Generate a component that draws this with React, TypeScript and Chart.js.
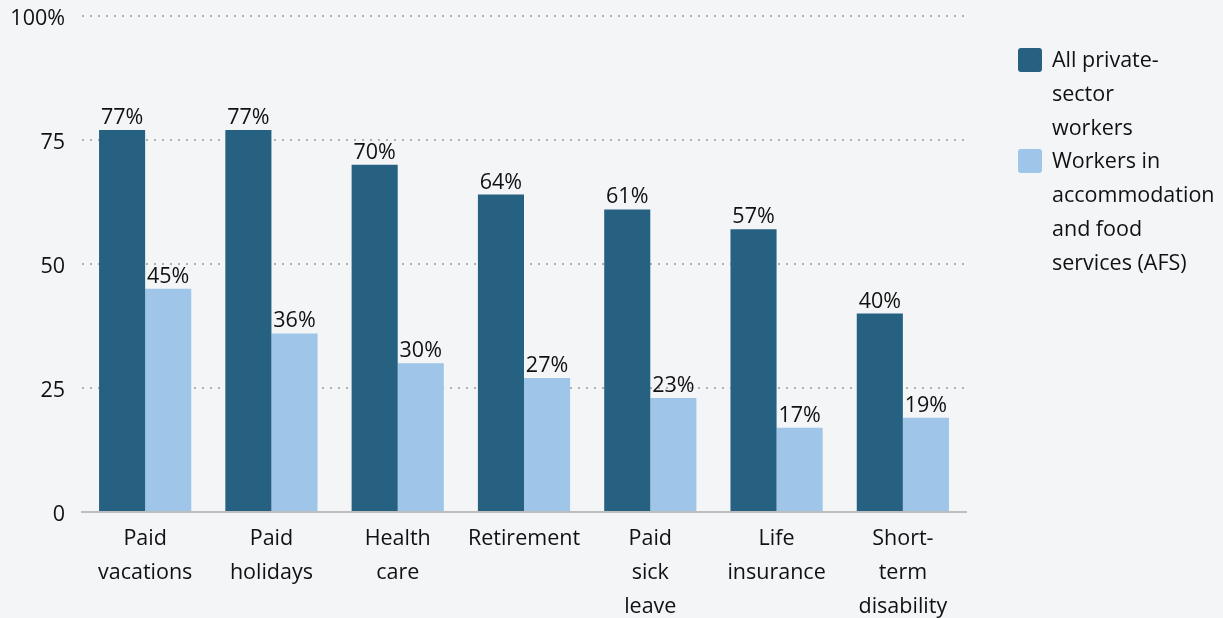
import React, { useEffect, useRef } from "react";
import { Chart, registerables } from "chart.js";

Chart.register(...registerables);

const categories: string[][] = [
  ["Paid", "vacations"],
  ["Paid", "holidays"],
  ["Health", "care"],
  ["Retirement"],
  ["Paid", "sick", "leave"],
  ["Life", "insurance"],
  ["Short-", "term", "disability"],
];
const allPrivate = [77, 77, 70, 64, 61, 57, 40];
const afsWorkers = [45, 36, 30, 27, 23, 17, 19];
const seriesNames: string[][] = [
  ["All private-", "sector", "workers"],
  ["Workers in", "accommodation", "and food", "services (AFS)"],
];
const yTicks = [0, 25, 50, 75, 100];

const DARK = "#266182";
const LIGHT = "#9fc5e8";
const BG = "#f4f5f7";
const FONT = "'Open Sans', sans-serif";
const FS = 21.5;
const TEXT = "#111";

const labelsPlugin = {
  id: "valueLabels",
  afterDatasetsDraw(chart: any) {
    const ctx = chart.ctx;
    ctx.save();
    ctx.font = `${FS}px ${FONT}`;
    ctx.fillStyle = TEXT;
    ctx.textAlign = "center";
    ctx.textBaseline = "alphabetic";
    chart.data.datasets.forEach((ds: any, di: number) => {
      const meta = chart.getDatasetMeta(di);
      meta.data.forEach((bar: any, i: number) => {
        ctx.fillText(`${ds.data[i]}%`, bar.x, bar.y - 6);
      });
    });
    ctx.restore();
  },
};

const legendPlugin = {
  id: "sideLegend",
  afterDraw(chart: any) {
    const ctx = chart.ctx;
    ctx.save();
    const colors = [DARK, LIGHT];
    const x0 = 1018;
    const tx = 1052;
    const lh = 34;
    let y = 61;
    seriesNames.forEach((lines, i) => {
      ctx.fillStyle = colors[i];
      const s = 24;
      const r = 3;
      const top = y - 13;
      ctx.beginPath();
      ctx.moveTo(x0 + r, top);
      ctx.lineTo(x0 + s - r, top);
      ctx.quadraticCurveTo(x0 + s, top, x0 + s, top + r);
      ctx.lineTo(x0 + s, top + s - r);
      ctx.quadraticCurveTo(x0 + s, top + s, x0 + s - r, top + s);
      ctx.lineTo(x0 + r, top + s);
      ctx.quadraticCurveTo(x0, top + s, x0, top + s - r);
      ctx.lineTo(x0, top + r);
      ctx.quadraticCurveTo(x0, top, x0 + r, top);
      ctx.fill();
      ctx.fillStyle = TEXT;
      ctx.font = `${FS}px ${FONT}`;
      ctx.textAlign = "left";
      ctx.textBaseline = "middle";
      lines.forEach((ln, j) => {
        ctx.fillText(ln, tx, y + j * lh);
      });
      y += lines.length * lh - 1;
    });
    ctx.restore();
  },
};

export default function App() {
  const ref = useRef<HTMLCanvasElement>(null);
  useEffect(() => {
    document.body.style.margin = "0";
    document.body.style.background = BG;
    const chart = new Chart(ref.current as HTMLCanvasElement, {
      type: "bar",
      data: {
        labels: categories,
        datasets: [
          { label: seriesNames[0].join(" "), data: allPrivate, backgroundColor: DARK },
          { label: seriesNames[1].join(" "), data: afsWorkers, backgroundColor: LIGHT },
        ],
      },
      options: {
        animation: false,
        responsive: false,
        maintainAspectRatio: false,
        layout: { padding: { left: 0, right: 257, top: 16, bottom: 0 } },
        datasets: { bar: { barPercentage: 1, categoryPercentage: 0.73 } },
        plugins: { legend: { display: false }, tooltip: { enabled: false } },
        scales: {
          x: {
            grid: { display: false },
            border: { display: true, color: "#bdbdbd", width: 2 },
            ticks: {
              color: TEXT,
              font: { family: FONT, size: FS, lineHeight: 1.58 },
              padding: 2,
              maxRotation: 0,
              autoSkip: false,
            },
            afterFit(scale: any) {
              scale.height = 106;
              scale.paddingLeft = 0;
              scale.paddingRight = 0;
            },
          },
          y: {
            min: 0,
            max: 100,
            afterBuildTicks(scale: any) {
              scale.ticks = yTicks.map((v) => ({ value: v }));
            },
            grid: {
              drawTicks: false,
              lineWidth: 2,
              color: (c: any) => (c.tick && c.tick.value === 0 ? "rgba(0,0,0,0)" : "#b0b0b0"),
            },
            border: { display: false, dash: [2, 6] },
            ticks: {
              color: TEXT,
              font: { family: FONT, size: FS },
              padding: 17,
              labelOffset: 3,
              callback: (v: any) => (v === 100 ? "100%" : String(v)),
            },
            afterFit(scale: any) {
              scale.width = 82;
              scale.paddingTop = 0;
              scale.paddingBottom = 0;
            },
          },
        },
      },
      plugins: [labelsPlugin, legendPlugin],
    });
    return () => chart.destroy();
  }, []);
  return (
    <div style={{ width: 1223, height: 618, background: BG }}>
      <canvas ref={ref} width={1223} height={618} style={{ display: "block" }} />
    </div>
  );
}
